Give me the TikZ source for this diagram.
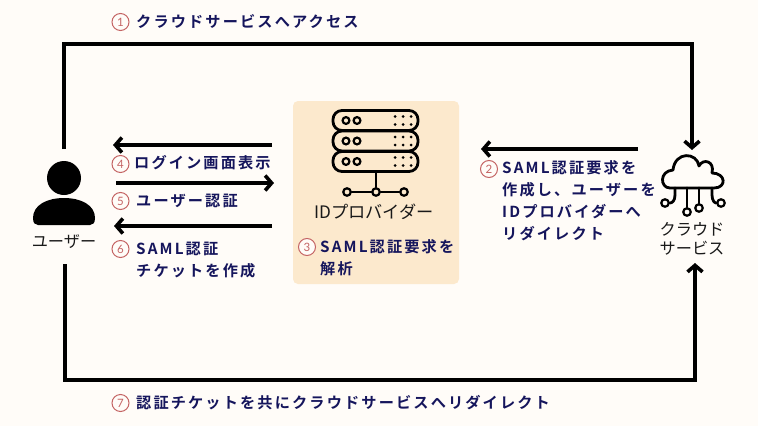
\documentclass[tikz,border=0pt]{standalone}
\usepackage{fontspec}
\setmainfont{Noto Sans CJK JP}
\newfontfamily\lblfont[LetterSpace=14,BoldFont={Noto Sans CJK JP Bold}]{Noto Sans CJK JP}
\newfontfamily\numfont{Lato}
\usetikzlibrary{arrows.meta}
\definecolor{pagebg}{HTML}{FFFCF8}
\definecolor{boxbg}{HTML}{FCE9CD}
\definecolor{navy}{HTML}{15155C}
\definecolor{numred}{HTML}{C46464}
\tikzset{
  flow/.style={line width=3.8pt, line join=miter, -{Straight Barb[length=6.5pt,width=15pt,line width=3.6pt]}},
  lbl/.style={anchor=west, inner sep=0pt, align=left, text=navy, font=\lblfont\bfseries\fontsize{15.2}{22}\selectfont},
  num/.style={circle, draw=numred, line width=1pt, fill=pagebg, minimum size=17pt, inner sep=0pt, text=numred, font=\numfont\fontsize{11.5}{11.5}\selectfont},
  iconcap/.style={inner sep=0pt, align=center, text=black!90, font=\fontsize{16.2}{19}\selectfont},
  ring/.style={circle, draw, line width=2.2pt, minimum size=7.5pt, inner sep=0pt},
  dotmark/.style={circle, fill, minimum size=3pt, inner sep=0pt},
  icon/.style={line width=2.8pt, line join=round, line cap=round}
}
\begin{document}
\begin{tikzpicture}[x=1pt,y=-1pt]
\path[use as bounding box, fill=pagebg] (0,0) rectangle (758,426);
\node[fill=boxbg, rounded corners=5pt, minimum width=166pt, minimum height=183pt, inner sep=0pt] (idpbox) at (376,192.5){};
% outer route
\coordinate (usertop) at (64,149);
\coordinate (topleft) at (64,44);
\coordinate (topright) at (692,44);
\coordinate (cloudtop) at (692,150);
\coordinate (userbot) at (65,264);
\coordinate (botleft) at (65,380);
\coordinate (botright) at (695,380);
\coordinate (cloudbot) at (695,263);
\draw[flow] (usertop) -- (topleft) -- (topright) -- (cloudtop);
\draw[flow] (userbot) -- (botleft) -- (botright) -- (cloudbot);
% inner arrows
\coordinate (a4r) at (272,145);
\coordinate (a4l) at (113,145);
\coordinate (a5l) at (116,183);
\coordinate (a5r) at (274,183);
\coordinate (a6r) at (272,226);
\coordinate (a6l) at (114,226);
\coordinate (a2r) at (638,149);
\coordinate (a2l) at (481,149);
\draw[flow] (a4r) -- (a4l);
\draw[flow] (a5l) -- (a5r);
\draw[flow] (a6r) -- (a6l);
\draw[flow] (a2r) -- (a2l);
% user
\node[circle, fill, minimum size=34pt, inner sep=0pt] (userhead) at (64,178){};
\fill (33,218) .. controls (33,205) and (47,198) .. (64,198) .. controls (81,198) and (95,205) .. (95,218) .. controls (95,223) and (93,225) .. (90,225) -- (38,225) .. controls (35,225) and (33,223) .. (33,218) -- cycle;
\node[iconcap] (usercap) at (64,242){ユーザー};
% server
\foreach \y in {120.5,141,161.5}{
  \draw[icon, rounded corners=9pt] (333,\y-10) rectangle (418,\y+10);
  \draw[line width=2.2pt] (346,\y) circle (3.4);
  \draw[line width=2.2pt] (357,\y) circle (3.4);
  \foreach \x in {395,403,411}{
    \node[dotmark] at (\x,\y-4){};
    \node[dotmark] at (\x,\y+4){};
  }
}
\node[ring] (net0) at (347,192){};
\node[ring] (net1) at (376,192){};
\node[ring] (net2) at (404,192){};
\coordinate (netstem) at (376,172);
\draw[icon] (netstem) -- (net1);
\draw[icon] (net0) -- (net1);
\draw[icon] (net1) -- (net2);
\node[iconcap, font=\fontsize{17.2}{19}\selectfont] (idpcap) at (374,212){IDプロバイダー};
% cloud
\draw[icon] (670,188) .. controls (660,188) and (659,171) .. (673,170) .. controls (675,151) and (697,152) .. (699,166) .. controls (703,158) and (715,161) .. (712,173) .. controls (726,173) and (727,188) .. (714,188) -- cycle;
\node[ring] (leg0) at (665,203){};
\node[ring] (leg1) at (687,212){};
\node[ring] (leg2) at (699,208){};
\node[ring] (leg3) at (721,203){};
\coordinate (cloud0) at (675,188);
\coordinate (cloud1) at (687,188);
\coordinate (cloud2) at (699,188);
\coordinate (cloud3) at (712,188);
\draw[icon] (cloud0) -- (675,195) .. controls (675,201) and (672,203) .. (leg0);
\draw[icon] (cloud1) -- (leg1);
\draw[icon] (cloud2) -- (leg2);
\draw[icon] (cloud3) -- (712,195) .. controls (712,201) and (715,203) .. (leg3);
\node[iconcap] (cloudcap) at (692,239){クラウド\\サービス};
% numbered labels
\node[num] (num1) at (120.5,22){1};
\node[lbl] (lbl1) at (136,22){クラウドサービスへアクセス};
\node[num] (num2) at (489,169){2};
\node[lbl] (lbl2) at (502,201){SAML認証要求を\\作成し、ユーザーを\\IDプロバイダーへ\\リダイレクト};
\node[num] (num3) at (307,247){3};
\node[lbl] (lbl3) at (320,258){SAML認証要求を\\解析};
\node[num] (num4) at (120.5,164){4};
\node[lbl] (lbl4) at (134,163){ログイン画面表示};
\node[num] (num5) at (120.5,201){5};
\node[lbl] (lbl5) at (136,201){ユーザー認証};
\node[num] (num6) at (120.5,249){6};
\node[lbl] (lbl6) at (136,260){SAML認証\\チケットを作成};
\node[num] (num7) at (120.5,403){7};
\node[lbl] (lbl7) at (136,403){認証チケットを共にクラウドサービスへリダイレクト};
\end{tikzpicture}
\end{document}
